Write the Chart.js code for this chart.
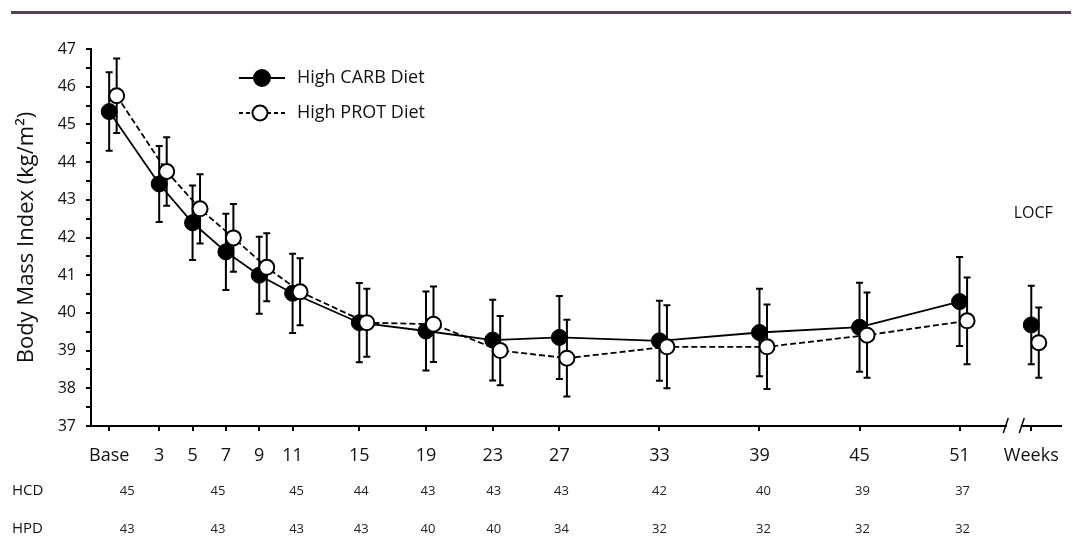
<!DOCTYPE html>
<html><head><meta charset="utf-8">
<script src="https://cdn.jsdelivr.net/npm/chart.js@4.4.1/dist/chart.umd.min.js"></script>
<style>
html,body{margin:0;padding:0;background:#fff;}
#wrap{position:relative;width:1073px;height:557px;overflow:hidden;}
#rule{position:absolute;left:11px;top:11px;width:1060px;height:3px;background:#5e386c;}
canvas{position:absolute;left:0;top:0;}
</style></head><body>
<div id="wrap"><canvas id="c" width="1073" height="557"></canvas><div id="rule"></div></div>
<script>
// ---- data ----
const weeks = [0, 3, 5, 7, 9, 11, 15, 19, 23, 27, 33, 39, 45, 51];
const hcdMean = [45.34, 43.42, 42.39, 41.62, 41.00, 40.52, 39.74, 39.52, 39.28, 39.35, 39.26, 39.48, 39.62, 40.30];
const hcdSD   = [1.04, 1.01, 0.99, 1.01, 1.02, 1.05, 1.05, 1.05, 1.07, 1.10, 1.06, 1.16, 1.18, 1.18];
const hpdMean = [45.76, 43.75, 42.76, 41.99, 41.21, 40.56, 39.74, 39.70, 39.00, 38.80, 39.10, 39.10, 39.41, 39.79];
const hpdSD   = [0.99, 0.91, 0.92, 0.90, 0.90, 0.89, 0.90, 1.00, 0.92, 1.02, 1.10, 1.12, 1.13, 1.15];
const locfWeek = 55.3;
const hcdLocf = 39.68, hcdLocfSD = 1.04;
const hpdLocf = 39.21, hpdLocfSD = 0.93;
const axisTickValues = [0, 3, 5, 7, 9, 11, 15, 19, 23, 27, 33, 39, 45, 51, locfWeek];
const axisTickLabels = ['Base', '3', '5', '7', '9', '11', '15', '19', '23', '27', '33', '39', '45', '51', 'Weeks'];
const countWeeks = [0, 7, 11, 15, 19, 23, 27, 33, 39, 45, 51];
const hcdN = [45, 45, 45, 44, 43, 43, 43, 42, 40, 39, 37];
const hpdN = [43, 43, 43, 43, 40, 40, 34, 32, 32, 32, 32];
const seriesNames = ['High CARB Diet', 'High PROT Diet'];
const rowNames = ['HCD', 'HPD'];

// ---- presentation ----
const FONT = "'Open Sans', 'Noto Sans', sans-serif";
const TXT = '#111';
const OPEN_SHIFT = 0.45;     // horizontal jitter of open markers (weeks)
const BREAK_AT = 54.25;
const countNudge = [18, -8, 4, 2, 2, 1, 2, 0, 4, 3, 3];

Chart.defaults.font.family = FONT;
Chart.defaults.color = TXT;

const errorBars = {
  id: 'errorBars',
  beforeDatasetsDraw(chart) {
    const ctx = chart.ctx, ys = chart.scales.y;
    chart.data.datasets.forEach((ds, i) => {
      if (!ds.errors) return;
      const meta = chart.getDatasetMeta(i);
      ctx.save();
      ctx.strokeStyle = '#000'; ctx.lineWidth = 2;
      meta.data.forEach((pt, j) => {
        const v = ds.data[j].y, e = ds.errors[j];
        const t = ys.getPixelForValue(v + e), b = ys.getPixelForValue(v - e);
        ctx.beginPath();
        ctx.moveTo(pt.x, t); ctx.lineTo(pt.x, b);
        ctx.moveTo(pt.x - 3.5, t); ctx.lineTo(pt.x + 3.5, t);
        ctx.moveTo(pt.x - 3.5, b); ctx.lineTo(pt.x + 3.5, b);
        ctx.stroke();
      });
      ctx.restore();
    });
  }
};

const overlay = {
  id: 'overlay',
  afterDraw(chart) {
    const ctx = chart.ctx, xs = chart.scales.x, ys = chart.scales.y;
    const area = chart.chartArea;
    ctx.save();
    // axis break
    const xb = xs.getPixelForValue(BREAK_AT);
    ctx.fillStyle = '#fff';
    ctx.fillRect(xb - 7, area.bottom - 4, 14, 8);
    ctx.strokeStyle = '#000'; ctx.lineWidth = 1.5;
    [-8, 8].forEach(d => {
      ctx.beginPath();
      ctx.moveTo(xb + d - 2.5, area.bottom + 7);
      ctx.lineTo(xb + d + 2.5, area.bottom - 8);
      ctx.stroke();
    });
    // legend
    const legendRows = [
      {y: 78, dash: [], fill: '#000', r: 8, cx: 262},
      {y: 113, dash: [4, 3], fill: '#fff', r: 7.5, cx: 260}
    ];
    legendRows.forEach((row, k) => {
      ctx.setLineDash(row.dash);
      ctx.lineWidth = 1.8; ctx.strokeStyle = '#000';
      ctx.beginPath(); ctx.moveTo(239, row.y); ctx.lineTo(285, row.y); ctx.stroke();
      ctx.setLineDash([]);
      ctx.beginPath(); ctx.arc(row.cx, row.y, row.r, 0, Math.PI * 2);
      ctx.fillStyle = row.fill; ctx.fill();
      ctx.lineWidth = 2; ctx.stroke();
      ctx.fillStyle = TXT; ctx.font = '18px ' + FONT;
      ctx.textAlign = 'left'; ctx.textBaseline = 'middle';
      ctx.fillText(seriesNames[k], 297, row.y);
    });
    // LOCF label
    ctx.font = '16px ' + FONT; ctx.textAlign = 'center'; ctx.fillStyle = TXT;
    ctx.fillText('LOCF', xs.getPixelForValue(locfWeek) + 2, 213);
    // count table
    const rows = [{n: hcdN, y: 491}, {n: hpdN, y: 529}];
    rows.forEach((row, k) => {
      ctx.font = '15px ' + FONT; ctx.textAlign = 'left'; ctx.fillStyle = TXT;
      ctx.fillText(rowNames[k], 12, row.y);
      ctx.font = '13px ' + FONT; ctx.textAlign = 'center'; ctx.fillStyle = '#222';
      countWeeks.forEach((w, i) => {
        ctx.fillText(String(row.n[i]), xs.getPixelForValue(w) + countNudge[i], row.y);
      });
    });
    ctx.restore();
  }
};

const toPts = (xsArr, ysArr, shift) => xsArr.map((w, i) => ({x: w + shift, y: ysArr[i]}));

new Chart(document.getElementById('c'), {
  type: 'scatter',
  data: {
    datasets: [
      {label: seriesNames[0], data: toPts(weeks, hcdMean, 0), errors: hcdSD, showLine: true,
       borderColor: '#000', borderWidth: 1.8, pointBackgroundColor: '#000', pointBorderColor: '#000',
       pointRadius: 8, pointBorderWidth: 1, order: 1},
      {label: seriesNames[1], data: toPts(weeks, hpdMean, OPEN_SHIFT), errors: hpdSD, showLine: true,
       borderColor: '#000', borderWidth: 1.8, borderDash: [6, 3], pointBackgroundColor: '#fff', pointBorderColor: '#000',
       pointRadius: 7.5, pointBorderWidth: 2, order: 0},
      {label: 'HCD LOCF', data: [{x: locfWeek, y: hcdLocf}], errors: [hcdLocfSD], showLine: false,
       pointBackgroundColor: '#000', pointBorderColor: '#000', pointRadius: 8, pointBorderWidth: 1, order: 1},
      {label: 'HPD LOCF', data: [{x: locfWeek + OPEN_SHIFT, y: hpdLocf}], errors: [hpdLocfSD], showLine: false,
       pointBackgroundColor: '#fff', pointBorderColor: '#000', pointRadius: 7.5, pointBorderWidth: 2, order: 0}
    ]
  },
  options: {
    responsive: false,
    animation: false,
    layout: {padding: {top: 49, right: 5, left: 0, bottom: 0}},
    plugins: {legend: {display: false}, tooltip: {enabled: false}},
    scales: {
      x: {
        type: 'linear', min: -1.09, max: 57.07,
        afterBuildTicks: s => { s.ticks = axisTickValues.map(v => ({value: v})); },
        afterFit: s => { s.height = 131; },
        grid: {drawOnChartArea: false, drawTicks: true, tickLength: 5, color: '#000', lineWidth: 2},
        border: {display: true, color: '#000', width: 2},
        ticks: {autoSkip: false, maxRotation: 0, padding: 14, font: {size: 18}, color: TXT,
                callback: (v, i) => axisTickLabels[i]}
      },
      y: {
        min: 37, max: 47,
        afterFit: s => { s.width = 91; },
        grid: {drawOnChartArea: false, drawTicks: true, tickLength: 5, color: '#000', lineWidth: 2},
        border: {display: true, color: '#000', width: 2},
        ticks: {stepSize: 0.5, autoSkip: false, padding: 10, font: {size: 16}, color: TXT,
                callback: v => Number.isInteger(v) ? String(v) : ''},
        title: {display: true, text: 'Body Mass Index (kg/m²)', font: {size: 22}, color: TXT,
                padding: {top: 14, bottom: 0}}
      }
    }
  },
  plugins: [errorBars, overlay]
});
</script>
</body></html>
